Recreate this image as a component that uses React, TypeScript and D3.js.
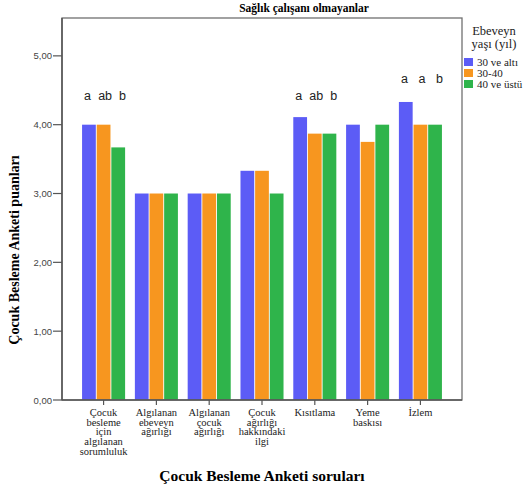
import React from 'react';
import * as d3 from 'd3';

const categories = [
  'Çocuk besleme için algılanan sorumluluk',
  'Algılanan ebeveyn ağırlığı',
  'Algılanan çocuk ağırlığı',
  'Çocuk ağırlığı hakkındaki ilgi',
  'Kısıtlama',
  'Yeme baskısı',
  'İzlem',
];
const seriesNames = ['30 ve altı', '30-40', '40 ve üstü'];
const age30under = [4.0, 3.0, 3.0, 3.33, 4.11, 4.0, 4.33];
const age30to40 = [4.0, 3.0, 3.0, 3.33, 3.87, 3.75, 4.0];
const age40over = [3.67, 3.0, 3.0, 3.0, 3.87, 4.0, 4.0];
const yTicks = [0, 1, 2, 3, 4, 5];
// significance letters above groups (null = none)
const groupLetters = [['a', 'ab', 'b'], null, null, null, ['a', 'ab', 'b'], null, ['a', 'a', 'b']];
const letterLevel = [4.36, 0, 0, 0, 4.36, 0, 4.6];

const colors = ['#5c5cf6', '#f7961f', '#2fb44b'];
const serif = '"Liberation Serif", "Times New Roman", serif';
const sans = '"Liberation Sans", Arial, sans-serif';

export default function App() {
  const width = 528;
  const height = 493;
  const left = 62, right = 462, top = 18, bottom = 400;

  const series = [age30under, age30to40, age40over];

  const x = d3.scaleBand().domain(categories).range([left, right]).paddingInner(0.185).paddingOuter(0.38);
  const xi = d3.scaleBand().domain(seriesNames).range([0, x.bandwidth()]).paddingInner(0.06);
  const y = d3.scaleLinear().domain([0, 5.55]).range([bottom, top]);
  const fmt = (v: number) => d3.format('.2f')(v).replace('.', ',');

  return (
    <svg width={width} height={height} style={{ position: 'absolute', left: 0, top: 0, background: '#fff' }}>
      <text x={304} y={12} textAnchor="middle" fontFamily={serif} fontWeight="bold" fontSize={11.5}>
        Sağlık çalışanı olmayanlar
      </text>

      {/* bars */}
      {categories.map((c, i) => (
        <g key={c} transform={`translate(${x(c)},0)`}>
          {series.map((s, j) => (
            <rect
              key={j}
              x={xi(seriesNames[j])}
              y={y(s[i])}
              width={xi.bandwidth()}
              height={y(0) - y(s[i])}
              fill={colors[j]}
            />
          ))}
          {groupLetters[i] &&
            groupLetters[i]!.map((l, j) => (
              <text
                key={'l' + j}
                x={x.bandwidth() / 2 + (j - 1) * 17.5 + 1.5}
                y={y(letterLevel[i])}
                textAnchor="middle"
                fontFamily={sans}
                fontSize={12.5}
                fill="#222"
              >
                {l}
              </text>
            ))}
        </g>
      ))}

      {/* frame */}
      <rect x={left} y={top} width={right - left} height={bottom - top} fill="none" stroke="#707070" strokeWidth={1.3} />
      <line x1={left} x2={left} y1={top} y2={bottom} stroke="#555" strokeWidth={1.5} />
      <line x1={left} x2={right} y1={bottom} y2={bottom} stroke="#555" strokeWidth={1.5} />

      {/* y axis */}
      {yTicks.map((t) => (
        <g key={t}>
          <line x1={left - 9} x2={left} y1={y(t)} y2={y(t)} stroke="#555" strokeWidth={1.2} />
          <text x={left - 10} y={y(t) + 3.5} textAnchor="end" fontFamily={sans} fontSize={9.5} fill="#444">
            {fmt(t)}
          </text>
        </g>
      ))}
      <text
        transform={`translate(19,250) rotate(-90)`}
        textAnchor="middle"
        fontFamily={serif}
        fontWeight="bold"
        fontSize={14}
      >
        Çocuk Besleme Anketi puanları
      </text>

      {/* x axis */}
      {categories.map((c) => {
        const cx = (x(c) as number) + x.bandwidth() / 2;
        return (
          <g key={c}>
            <line x1={cx} x2={cx} y1={bottom} y2={bottom + 5} stroke="#555" strokeWidth={1.2} />
            <text textAnchor="middle" fontFamily={serif} fontSize={10.5} fill="#222">
              {c.split(' ').map((w, k) => (
                <tspan key={k} x={cx} y={416 + k * 9.7}>
                  {w}
                </tspan>
              ))}
            </text>
          </g>
        );
      })}
      <text x={262} y={481} textAnchor="middle" fontFamily={serif} fontWeight="bold" fontSize={15.5}>
        Çocuk Besleme Anketi soruları
      </text>

      {/* legend */}
      <text x={494} y={35} textAnchor="middle" fontFamily={serif} fontSize={12.5} fill="#222">
        Ebeveyn
      </text>
      <text x={494} y={48} textAnchor="middle" fontFamily={serif} fontSize={12.5} fill="#222">
        yaşı (yıl)
      </text>
      {seriesNames.map((n, j) => (
        <g key={n} transform={`translate(464,${58 + j * 11})`}>
          <rect width={9} height={8} fill={colors[j]} />
          <text x={13} y={7.5} fontFamily={serif} fontSize={11} fill="#222">
            {n}
          </text>
        </g>
      ))}
    </svg>
  );
}
